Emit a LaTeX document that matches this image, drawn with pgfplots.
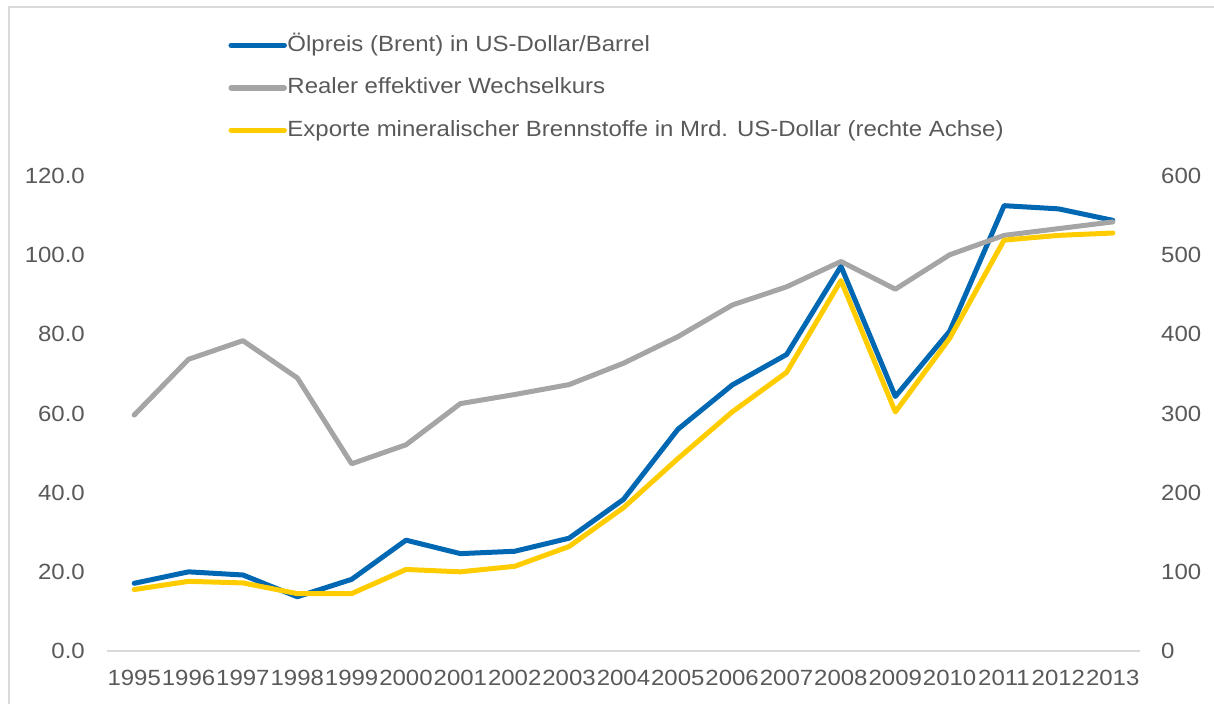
\documentclass[border=0pt]{standalone}
\usepackage{fontspec}
\setmainfont{Liberation Sans}[FakeStretch=1.09]
\usepackage{pgfplots}
\pgfplotsset{compat=1.18}
\definecolor{cblue}{RGB}{0,103,178}
\definecolor{cgray}{RGB}{165,165,165}
\definecolor{cyellow}{RGB}{255,204,0}
\definecolor{ctext}{RGB}{89,89,89}
\definecolor{cline}{RGB}{217,217,217}
\begin{document}
\begin{tikzpicture}[x=1pt,y=1pt]
\path[use as bounding box] (0,0) rectangle (1214,704);
\draw[cline,line width=2pt] (9,0) -- (9,696.5) -- (1214,696.5);
\pgfplotsset{
  base/.style={
    scale only axis, width=1033pt, height=475pt,
    at={(107pt,53pt)}, anchor=south west,
    xmin=1994.5, xmax=2013.5,
    major tick length=0pt,
    tick style={draw=none},
    /pgf/number format/assume math mode=true,
    tick label style={font=\fontsize{22}{26}\selectfont, text=ctext},
  }
}
\begin{axis}[base,
  ymin=0, ymax=120,
  ytick={0,20,...,120},
  yticklabel style={/pgf/number format/.cd, fixed, fixed zerofill, precision=1, /tikz/.cd, inner sep=0pt, anchor=east},
  yticklabel shift=22pt,
  axis y line*=left,
  axis x line*=bottom,
  x axis line style={cline, line width=1.5pt},
  y axis line style={draw=none},
  xtick={1995,...,2013},
  xticklabels={1995,1996,1997,1998,1999,2000,2001,2002,2003,2004,2005,2006,2007,2008,2009,2010,2011,2012,2013},
  xticklabel style={inner sep=0pt, anchor=north},
  xticklabel shift=19pt,
  legend style={at={(rel axis cs:0.1145,1.303)}, anchor=north west, draw=none, fill=none,
    font=\fontsize{22}{26}\selectfont, text=ctext,
    nodes={inner xsep=0.5pt, inner ysep=0pt, text height=17pt, text depth=5pt, anchor=west},
    row sep=20.5pt},
  legend cell align=left,
  legend image code/.code={\draw[#1, line width=5.5pt, line cap=round] (0pt,0pt) -- (53pt,0pt);},
]
\addplot[cblue, line width=5pt, line join=round, line cap=round] coordinates {
(1995,17.1) (1996,20.0) (1997,19.2) (1998,13.7) (1999,18.1) (2000,28.0) (2001,24.6)
(2002,25.2) (2003,28.5) (2004,38.3) (2005,56.0) (2006,67.2) (2007,74.9) (2008,97.2)
(2009,64.3) (2010,80.8) (2011,112.5) (2012,111.7) (2013,108.8)};
\addlegendentry{Ölpreis (Brent) in US-Dollar/Barrel}
\addplot[cgray, line width=5pt, line join=round, line cap=round] coordinates {
(1995,59.6) (1996,73.7) (1997,78.4) (1998,69.0) (1999,47.3) (2000,52.1) (2001,62.5)
(2002,64.8) (2003,67.3) (2004,72.7) (2005,79.4) (2006,87.4) (2007,92.0) (2008,98.4)
(2009,91.4) (2010,100.1) (2011,105.0) (2012,106.7) (2013,108.4)};
\addlegendentry{Realer effektiver Wechselkurs}
\addlegendimage{cyellow}
\addlegendentry{Exporte mineralischer Brennstoffe in Mrd. US-Dollar (rechte Achse)}
\end{axis}
\begin{axis}[base,
  ymin=0, ymax=600,
  ytick={0,100,...,600},
  yticklabel style={inner sep=0pt, anchor=west},
  yticklabel shift=21pt,
  axis y line*=right,
  axis x line=none,
  y axis line style={draw=none},
  xtick=\empty,
]
\addplot[cyellow, line width=5pt, line join=round, line cap=round] coordinates {
(1995,77.6) (1996,88) (1997,86) (1998,72.5) (1999,72.5) (2000,103) (2001,100)
(2002,107) (2003,132) (2004,181) (2005,243) (2006,302) (2007,352) (2008,468)
(2009,302) (2010,395) (2011,519) (2012,525) (2013,528)};
\end{axis}
\end{tikzpicture}
\end{document}
